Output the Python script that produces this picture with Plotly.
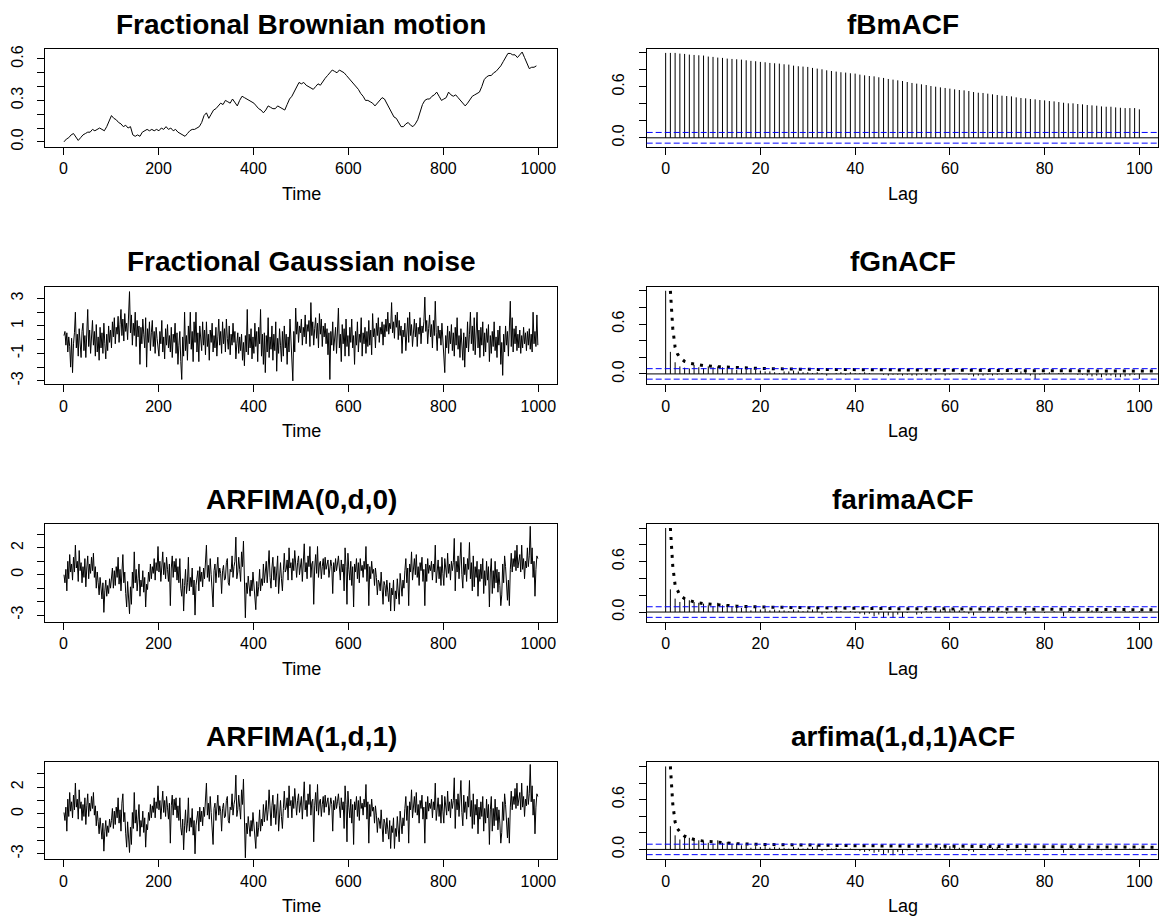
import plotly.graph_objects as go

# ---------------- data ----------------
FBM_STEP = 5     # fBm values read every 5 time units, starting at t = 1
NOISE_STEP = 2   # noise series read every 2 time units, starting at t = 1

FBM = [0.00, 0.02, 0.03, 0.05, 0.06, 0.03, 0.01, 0.03, 0.05, 0.06,
       0.07, 0.07, 0.09, 0.08, 0.09, 0.10, 0.09, 0.08, 0.11, 0.15,
       0.19, 0.17, 0.16, 0.14, 0.13, 0.11, 0.12, 0.10, 0.11, 0.05,
       0.04, 0.05, 0.04, 0.07, 0.08, 0.09, 0.08, 0.09, 0.08, 0.09,
       0.08, 0.10, 0.09, 0.11, 0.09, 0.10, 0.08, 0.09, 0.07, 0.06,
       0.05, 0.04, 0.06, 0.08, 0.09, 0.09, 0.10, 0.11, 0.14, 0.19,
       0.21, 0.17, 0.20, 0.23, 0.24, 0.26, 0.28, 0.27, 0.30, 0.29,
       0.28, 0.31, 0.28, 0.26, 0.30, 0.33, 0.32, 0.31, 0.30, 0.29,
       0.28, 0.26, 0.24, 0.23, 0.21, 0.23, 0.26, 0.25, 0.24, 0.24,
       0.26, 0.25, 0.24, 0.23, 0.27, 0.31, 0.33, 0.36, 0.40, 0.43,
       0.42, 0.43, 0.41, 0.40, 0.39, 0.38, 0.40, 0.42, 0.41, 0.44,
       0.46, 0.48, 0.50, 0.52, 0.51, 0.50, 0.52, 0.51, 0.50, 0.48,
       0.46, 0.44, 0.42, 0.40, 0.38, 0.35, 0.33, 0.30, 0.30, 0.29,
       0.28, 0.26, 0.28, 0.30, 0.32, 0.31, 0.28, 0.25, 0.21, 0.18,
       0.17, 0.14, 0.11, 0.11, 0.13, 0.14, 0.12, 0.11, 0.13, 0.16,
       0.22, 0.27, 0.30, 0.31, 0.31, 0.33, 0.34, 0.36, 0.33, 0.30,
       0.31, 0.32, 0.36, 0.34, 0.33, 0.34, 0.32, 0.30, 0.28, 0.26,
       0.28, 0.31, 0.33, 0.34, 0.35, 0.36, 0.40, 0.45, 0.47, 0.48,
       0.48, 0.50, 0.51, 0.53, 0.55, 0.58, 0.61, 0.64, 0.64, 0.63,
       0.63, 0.61, 0.63, 0.65, 0.61, 0.57, 0.53, 0.54, 0.54, 0.55]

FGN = [0.3, 0.6, -0.4, 0.5, -0.9, 0.2, -0.5, -2.0, 0.1, -2.4,
       -0.3, 0.5, 2.0, -0.6, 0.4, -1.2, 0.8, -0.2, -1.3, 0.6,
       1.2, -0.8, 0.3, -1.3, 0.9, 2.2, -0.5, 0.7, -1.0, 0.4,
       1.4, -0.4, 0.6, -1.2, 1.1, -0.9, 0.2, -1.5, 0.9, -0.6,
       0.5, -1.0, 1.2, -0.3, -1.4, 0.4, -0.8, 1.0, -0.2, 0.7,
       -0.6, 1.3, 0.2, 1.6, -0.3, 0.9, 0.4, 1.7, -0.2, 1.1,
       2.2, 0.3, 1.5, -0.1, 1.9, 0.6, 1.2, 0.0, 2.0, 3.5,
       0.5, 1.8, -0.4, 1.2, 0.3, 2.0, -0.5, 1.4, 0.2, 1.0,
       -1.8, 0.9, -0.3, 1.5, 0.4, -0.6, 1.6, -2.0, 0.8, -0.2,
       1.3, -0.8, 0.5, 1.4, -0.5, 0.6, -1.0, 0.9, 0.1, -0.7,
       -1.2, 0.6, -0.3, 1.4, -0.9, 0.2, -1.4, 0.8, -0.4, 1.1,
       -0.6, 0.3, -0.9, 0.9, -1.3, 0.4, -0.2, 1.2, -1.0, 0.5,
       -1.8, -0.4, 0.6, -1.6, -2.9, 0.2, -1.2, 2.0, -0.8, 0.3,
       -1.5, 1.0, -0.3, 2.0, -0.7, 0.6, -1.6, 1.3, -0.2, 2.0,
       -0.9, 0.5, -1.6, 1.0, 0.1, -0.8, 1.3, -0.4, 0.7, -1.1,
       1.3, -0.5, 0.4, -1.5, 0.7, -0.2, 1.2, -0.9, 0.3, -0.6,
       0.9, -1.2, 0.2, 1.5, -0.4, 0.6, -1.0, 1.3, -0.3, 0.8,
       -0.9, 1.5, 0.1, -0.7, 1.0, -1.1, 0.4, -0.4, 1.2, -0.2,
       0.6, -1.4, -0.3, 0.5, -1.0, 0.2, -0.8, 0.4, -1.5, -0.2,
       -1.9, 0.3, -0.9, 2.2, -1.1, 0.4, -0.6, 0.8, -1.4, 0.2,
       -1.0, 1.2, -0.5, 0.6, -1.6, 0.9, -0.3, 2.2, -1.2, 0.4,
       -1.8, 0.5, -2.4, 0.3, -0.9, 1.6, -1.3, 0.2, -0.7, 1.0,
       -1.5, 0.4, -0.8, 1.3, -2.3, 0.1, -1.0, 0.8, -0.4, -1.6,
       0.6, -1.2, 1.0, -0.6, 0.4, -1.8, 0.2, -0.9, 1.5, -0.3,
       -1.3, -3.0, 0.6, -0.9, 2.3, 0.4, 1.3, -0.2, 1.0, 0.5,
       1.5, -0.4, 0.9, 0.2, 1.8, -0.3, 1.1, 0.6, 1.4, -0.5,
       2.7, 0.3, 1.3, -0.4, 0.8, 1.6, 0.1, 1.2, -0.6, 1.9,
       0.4, 1.5, -0.5, 1.0, 0.2, 1.2, -0.3, 0.8, -1.1, 0.5,
       -2.9, 0.6, -0.4, 1.3, -0.8, 0.2, 0.9, -1.0, 0.5, 2.3,
       -0.6, 0.4, -1.6, 1.1, -0.3, 0.8, -1.2, 1.5, -0.5, 0.3,
       -1.2, 0.9, -0.2, 1.5, -0.6, 0.3, -1.8, 0.6, -0.4, 1.3,
       -0.9, 0.4, -0.2, 1.6, -1.2, 0.5, -0.3, 0.9, -1.0, 0.6,
       -0.5, 1.4, -0.4, 0.7, -1.1, 1.9, 0.2, 0.8, -0.6, 1.2,
       0.3, 1.6, -0.2, 0.9, 0.4, 1.3, -0.4, 1.1, 0.2, 1.5,
       0.6, 2.0, 0.4, 1.2, 0.8, 2.7, 0.5, 1.3, 0.1, 1.8,
       0.9, 2.0, 0.0, 1.4, 0.3, 1.0, -1.0, 0.7, 0.2, 1.2,
       -0.8, 0.6, 1.6, -0.2, 2.0, 0.3, 1.1, -0.5, 0.8, 1.5,
       0.2, 1.2, -0.5, 0.9, 0.4, 1.6, -0.3, 1.0, 0.5, 1.3,
       3.1, 0.6, 1.4, -0.3, 0.8, 1.8, 0.2, 1.1, -0.6, 1.4,
       0.3, 2.8, 0.5, -0.8, 1.0, 0.1, 0.7, -0.4, 1.2, 0.0,
       -0.9, -2.4, 0.3, -0.6, 1.0, -1.0, 0.6, -0.3, 1.1, -0.8,
       0.5, -1.2, 0.9, -0.4, 1.6, -0.7, 0.3, -1.3, 0.8, -0.2,
       -1.5, 0.5, -2.0, 0.2, -0.6, 1.3, -0.9, 0.4, 2.0, -0.3,
       1.0, -0.8, 1.6, -1.1, 0.2, 2.0, -0.6, 0.7, -1.3, 0.9,
       -0.4, 1.3, -1.2, 0.5, -0.9, 0.8, -0.2, 1.1, -1.6, 0.3,
       -1.0, 0.6, -0.5, 1.3, -0.8, 0.2, -1.3, 0.7, -0.4, 1.0,
       -1.8, -0.2, -2.6, 0.4, -0.9, 1.0, -0.4, 0.6, -1.2, 0.5,
       2.8, -0.5, 1.6, -0.9, 0.8, -0.3, 1.0, -0.8, 0.4, -0.6,
       0.7, -1.0, 0.3, -0.6, 0.9, -0.3, 0.5, -0.8, 0.6, -0.4,
       0.8, -0.7, 0.4, -0.9, 2.0, -0.3, 0.6, -0.5, 1.8, -0.4]

ARFIMA_0D0 = [0.0, -0.6, 0.4, -1.2, 1.0, -0.3, 1.5, 0.2, 0.8, -0.4,
              1.3, 0.2, 2.2, 0.5, 1.0, -0.5, 1.8, 0.3, 0.9, -0.6,
              0.6, -0.2, 1.2, -0.9, 0.5, 1.4, -0.3, 0.8, 0.1, 1.3,
              0.3, 1.6, -0.2, 0.6, -1.0, 0.2, -0.6, -1.5, -0.2, -1.1,
              -1.8, -0.6, -2.8, -1.2, -0.4, -1.6, -0.8, -1.4, -0.3, -1.0,
              -0.4, 0.5, -1.0, 0.3, -0.8, 0.6, -0.2, 1.3, -0.7, 0.4,
              -1.2, 0.9, 1.5, -0.6, 0.2, -1.4, -2.4, -0.5, -1.6, -2.9,
              -0.9, -2.2, 0.2, -1.0, 1.7, -0.6, 0.4, -1.2, -0.3, 0.8,
              -1.6, -0.4, -0.9, 0.3, -1.3, -0.2, -2.4, -0.7, -1.1, 0.2,
              -0.5, 0.8, -0.3, 0.6, 0.1, 1.2, -0.4, 0.9, 0.3, 2.1,
              0.2, 1.0, -0.5, 0.7, 1.7, 0.0, 0.9, -0.3, 1.3, 0.4,
              -0.5, 0.8, -2.3, 0.5, 1.4, -0.2, 1.0, 0.2, 1.2, -0.4,
              0.6, -0.6, 1.2, -1.0, -1.6, -0.3, -2.7, -0.8, 0.4, -1.4,
              -0.6, 1.3, -1.2, -0.2, -0.9, 0.5, -1.5, -0.4, -3.0, -0.8,
              -0.2, 0.3, -1.2, 0.6, -0.5, 0.2, -0.9, 0.5, -0.3, 0.8,
              2.2, -0.2, 0.7, -0.5, 1.2, 0.0, -1.0, -2.4, 0.3, 0.8,
              -0.6, 0.6, 1.3, -0.2, 0.5, 0.1, -1.4, 0.3, 0.7, -0.4,
              -0.3, 0.9, 1.2, -0.6, -0.8, 0.4, 0.2, 1.4, -0.2, 0.6,
              1.0, 2.8, -0.3, 0.2, 1.3, 0.4, -0.5, 1.7, 0.6, 2.5,
              0.3, -3.2, -0.6, -1.4, -0.1, -0.9, -1.6, -0.4, -1.2, 0.2,
              -0.8, -1.5, -2.6, -0.5, -1.6, -0.9, 0.4, -1.2, -0.3, -0.8,
              0.8, -0.6, 0.1, 1.0, -0.6, 0.3, 1.8, -0.2, -1.0, 0.5,
              1.3, -0.4, 0.6, -0.9, 0.2, 1.4, -1.4, 0.5, 0.9, -0.3,
              -1.2, 0.3, 1.6, 0.2, 0.4, 1.1, -0.4, 2.0, 0.5, 0.9,
              -0.4, 1.2, 0.3, 1.8, 0.6, -0.2, 0.9, 1.4, 0.0, 0.8,
              1.2, -0.5, 0.6, 2.3, 0.2, 0.9, -0.3, 1.4, 0.6, 2.1,
              -0.2, 0.8, 1.0, -2.2, 0.5, 1.5, 0.1, 2.1, -0.2, 0.8,
              1.0, -0.3, 0.6, 1.2, 0.0, 1.3, 0.4, 0.8, 1.1, -0.2,
              0.4, 1.1, 0.6, -1.4, 0.9, 0.2, 1.2, 0.3, 0.8, 1.4,
              0.5, -0.4, 1.1, 0.2, 0.8, -1.2, 2.0, 0.6, -2.2, 1.6,
              0.4, -0.4, 1.0, -0.8, 0.6, -2.4, 0.8, 0.2, 1.2, -0.3,
              0.9, -0.6, 1.2, 0.3, 0.7, -0.2, 1.0, 0.4, 2.1, -0.5,
              0.8, -2.3, 0.6, -0.3, 1.0, 0.1, 0.4, -0.8, 0.5, -0.2,
              -1.5, -0.4, -0.6, -1.2, 0.2, -1.0, -2.2, -0.5, -0.8, -1.6,
              -0.4, -1.3, -2.0, -0.6, -2.7, -1.0, -1.5, -0.4, -2.7, -1.2,
              -1.8, -0.3, -1.2, -2.2, 0.1, -0.9, -1.6, -0.4, -1.0, 0.3,
              1.2, -0.6, 0.5, -2.3, 0.8, 0.2, 1.7, -0.4, 0.9, 1.2,
              0.0, 1.5, -0.2, 0.6, -0.8, 0.9, 0.3, 1.3, -0.5, 0.4,
              -2.3, 0.8, -0.5, 1.2, 0.1, 0.7, 0.3, 1.0, -0.4, 0.8,
              0.2, 2.2, -0.6, 0.5, 1.1, -0.3, 0.6, -0.8, 1.3, 0.1,
              -0.8, 1.2, 0.4, -0.2, 1.6, 0.1, 0.8, -0.4, 1.0, 0.3,
              0.9, 2.7, -1.2, 1.0, 0.2, 1.4, -0.3, 0.8, 2.4, 0.0,
              -1.0, 1.3, 0.0, 0.8, -0.5, 1.2, 0.4, 2.4, -0.3, 0.9,
              -1.2, 1.4, -0.9, 0.6, -0.2, 1.0, -1.6, 0.4, -0.5, 0.8,
              -0.3, 1.2, -1.4, 0.3, -0.8, 1.0, -0.4, 0.6, -2.4, 0.2,
              1.2, -1.4, 0.3, -1.0, 1.0, -0.6, 0.4, -1.3, 0.2, -0.8,
              -2.3, -1.5, 0.8, -0.6, 1.4, 0.6, -0.9, -1.9, -0.4, -2.3,
              0.4, 1.6, 0.2, 1.2, 0.6, 1.8, 0.3, 2.2, 0.5, 1.0,
              1.5, 0.2, 2.2, 0.4, 1.2, -0.3, 1.0, 0.5, 2.0, 0.6,
              1.4, 3.6, 0.8, 2.0, -0.2, 1.0, -1.6, 0.4, 1.4, 1.2]

ARFIMA_1D1 = [0.1, -0.5, 0.5, -1.3, 1.1, -0.2, 1.6, 0.2, 0.9, -0.3,
              1.4, 0.3, 2.3, 0.5, 1.1, -0.4, 1.8, 0.4, 0.9, -0.5,
              0.7, -0.2, 1.2, -0.8, 0.6, 1.5, -0.2, 0.8, 0.2, 1.3,
              0.4, 1.6, -0.1, 0.6, -0.9, 0.2, -0.6, -1.5, -0.3, -1.2,
              -1.9, -0.7, -2.8, -1.3, -0.5, -1.7, -0.9, -1.4, -0.4, -1.0,
              -0.5, 0.4, -1.1, 0.2, -0.8, 0.5, -0.3, 1.2, -0.7, 0.3,
              -1.3, 0.8, 1.5, -0.6, 0.1, -1.5, -2.5, -0.6, -1.7, -2.9,
              -1.0, -2.3, 0.1, -1.1, 1.6, -0.7, 0.3, -1.3, -0.4, 0.7,
              -1.7, -0.5, -1.0, 0.2, -1.4, -0.3, -2.5, -0.8, -1.2, 0.1,
              -0.5, 0.7, -0.3, 0.6, 0.1, 1.2, -0.3, 0.9, 0.4, 2.1,
              0.3, 1.0, -0.4, 0.8, 1.7, 0.1, 1.0, -0.2, 1.3, 0.5,
              -0.4, 0.8, -2.2, 0.6, 1.4, -0.1, 1.1, 0.3, 1.2, -0.3,
              0.6, -0.5, 1.2, -1.0, -1.6, -0.4, -2.7, -0.9, 0.3, -1.4,
              -0.7, 1.2, -1.3, -0.3, -1.0, 0.4, -1.6, -0.5, -3.0, -0.9,
              -0.3, 0.2, -1.3, 0.5, -0.6, 0.2, -0.9, 0.5, -0.2, 0.9,
              2.3, -0.1, 0.8, -0.4, 1.3, 0.1, -0.9, -2.3, 0.4, 0.8,
              -0.5, 0.7, 1.4, -0.1, 0.6, 0.2, -1.3, 0.4, 0.8, -0.3,
              -0.2, 1.0, 1.3, -0.5, -0.7, 0.5, 0.3, 1.5, -0.1, 0.7,
              1.1, 2.9, -0.2, 0.3, 1.4, 0.5, -0.4, 1.8, 0.7, 2.6,
              0.4, -3.3, -0.7, -1.5, -0.2, -1.0, -1.7, -0.5, -1.3, 0.1,
              -0.9, -1.6, -2.6, -0.6, -1.7, -1.0, 0.3, -1.3, -0.4, -0.9,
              0.7, -0.6, 0.1, 1.0, -0.5, 0.3, 1.8, -0.1, -0.9, 0.6,
              1.4, -0.3, 0.7, -0.8, 0.3, 1.5, -1.3, 0.6, 1.0, -0.2,
              -1.1, 0.4, 1.7, 0.3, 0.5, 1.2, -0.3, 2.1, 0.6, 1.0,
              -0.3, 1.3, 0.4, 1.9, 0.7, -0.1, 1.0, 1.5, 0.1, 0.9,
              1.3, -0.4, 0.7, 2.4, 0.3, 1.0, -0.2, 1.5, 0.7, 2.2,
              -0.1, 0.9, 1.1, -2.1, 0.6, 1.6, 0.2, 2.2, -0.1, 0.9,
              1.1, -0.2, 0.7, 1.3, 0.1, 1.4, 0.5, 0.9, 1.2, -0.1,
              0.5, 1.2, 0.7, -1.3, 1.0, 0.3, 1.3, 0.4, 0.9, 1.5,
              0.6, -0.3, 1.2, 0.3, 0.9, -1.1, 2.1, 0.7, -2.1, 1.7,
              0.5, -0.3, 1.1, -0.7, 0.7, -2.3, 0.9, 0.3, 1.3, -0.2,
              1.0, -0.5, 1.3, 0.4, 0.8, -0.1, 1.1, 0.5, 2.2, -0.4,
              0.9, -2.2, 0.7, -0.2, 1.1, 0.2, 0.5, -0.7, 0.6, -0.1,
              -1.4, -0.3, -0.5, -1.1, 0.3, -0.9, -2.1, -0.4, -0.7, -1.5,
              -0.3, -1.2, -1.9, -0.5, -2.6, -0.9, -1.4, -0.3, -2.6, -1.1,
              -1.7, -0.2, -1.1, -2.1, 0.2, -0.8, -1.5, -0.3, -0.9, 0.4,
              1.3, -0.5, 0.6, -2.2, 0.9, 0.3, 1.8, -0.3, 1.0, 1.3,
              0.1, 1.6, -0.1, 0.7, -0.7, 1.0, 0.4, 1.4, -0.4, 0.5,
              -2.2, 0.9, -0.4, 1.3, 0.2, 0.8, 0.4, 1.1, -0.3, 0.9,
              0.3, 2.3, -0.5, 0.6, 1.2, -0.2, 0.7, -0.7, 1.4, 0.2,
              -0.7, 1.3, 0.5, -0.1, 1.7, 0.2, 0.9, -0.3, 1.1, 0.4,
              1.0, 2.7, -1.1, 1.1, 0.3, 1.5, -0.2, 0.9, 2.5, 0.1,
              -0.9, 1.4, 0.1, 0.9, -0.4, 1.3, 0.5, 2.5, -0.2, 1.0,
              -1.1, 1.5, -0.8, 0.7, -0.1, 1.1, -1.5, 0.5, -0.4, 0.9,
              -0.2, 1.3, -1.3, 0.4, -0.7, 1.1, -0.3, 0.7, -2.3, 0.3,
              1.3, -1.3, 0.4, -0.9, 1.1, -0.5, 0.5, -1.2, 0.3, -0.7,
              -2.2, -1.4, 0.9, -0.5, 1.5, 0.7, -0.8, -1.8, -0.3, -2.2,
              0.5, 1.7, 0.3, 1.3, 0.7, 1.9, 0.4, 2.3, 0.6, 1.1,
              1.6, 0.3, 2.3, 0.5, 1.3, -0.2, 1.1, 0.6, 2.1, 0.7,
              1.5, 3.7, 0.9, 2.1, -0.1, 1.1, -1.5, 0.5, 1.5, 1.3]

# sample ACF values, lags 0..100
ACF_FBM = [1.000, 1.000, 1.000, 0.992, 0.988, 0.980, 0.976, 0.972, 0.969, 0.957,
           0.953, 0.945, 0.941, 0.933, 0.929, 0.925, 0.921, 0.913, 0.906, 0.902,
           0.894, 0.890, 0.882, 0.878, 0.874, 0.866, 0.862, 0.850, 0.843, 0.839,
           0.835, 0.823, 0.815, 0.807, 0.795, 0.787, 0.780, 0.772, 0.768, 0.760,
           0.756, 0.744, 0.736, 0.728, 0.724, 0.713, 0.705, 0.693, 0.685, 0.677,
           0.669, 0.657, 0.646, 0.638, 0.630, 0.622, 0.610, 0.602, 0.594, 0.587,
           0.579, 0.571, 0.563, 0.559, 0.551, 0.539, 0.531, 0.528, 0.520, 0.512,
           0.504, 0.496, 0.492, 0.488, 0.476, 0.469, 0.465, 0.457, 0.453, 0.445,
           0.441, 0.433, 0.429, 0.421, 0.413, 0.406, 0.406, 0.398, 0.394, 0.386,
           0.382, 0.378, 0.370, 0.366, 0.366, 0.358, 0.354, 0.350, 0.350, 0.350,
           0.335]

ACF_FGN = [1.00, 0.265, 0.14, 0.09, 0.075, 0.065, 0.11, 0.08, 0.07, 0.09,
           0.08, 0.09, 0.08, 0.07, 0.07, 0.05, 0.07, 0.06, 0.07, 0.05,
           0.04, 0.03, 0.03, 0.02, 0.01, 0.03, 0.03, 0.04, 0.03, 0.02,
           0.02, 0.01, 0.02, 0.01, -0.02, 0.00, 0.01, 0.02, -0.01, 0.02,
           0.01, 0.01, 0.02, 0.01, 0.00, 0.00, -0.01, -0.02, -0.01, -0.01,
           -0.02, -0.01, -0.02, -0.02, -0.01, -0.01, -0.02, -0.01, 0.00, -0.02,
           -0.01, 0.00, 0.01, 0.00, -0.01, -0.03, -0.02, -0.02, -0.01, -0.02,
           -0.01, -0.01, 0.00, 0.01, 0.00, 0.03, 0.02, -0.02, -0.06, -0.01,
           0.01, 0.02, 0.00, 0.01, 0.01, 0.00, 0.00, -0.01, -0.01, -0.02,
           -0.03, -0.02, -0.04, -0.02, -0.02, -0.04, -0.04, -0.03, -0.02, -0.01,
           -0.06]

ACF_FARIMA = [1.00, 0.27, 0.16, 0.12, 0.15, 0.14, 0.12, 0.11, 0.10, 0.08,
              0.07, 0.11, 0.08, 0.09, 0.07, 0.07, 0.05, 0.06, 0.02, 0.05,
              0.03, 0.04, 0.02, 0.03, 0.02, 0.02, 0.01, 0.03, 0.02, 0.01,
              0.02, 0.03, 0.06, -0.03, -0.01, 0.01, 0.02, 0.01, 0.00, 0.01,
              -0.01, -0.02, -0.03, -0.02, -0.05, -0.03, -0.07, -0.04, -0.07, -0.03,
              -0.06, -0.01, 0.00, -0.03, -0.02, 0.01, 0.01, 0.02, 0.03, 0.03,
              0.04, 0.03, 0.02, 0.01, -0.02, -0.04, 0.00, 0.01, 0.05, 0.02,
              0.03, 0.01, -0.02, 0.00, 0.01, 0.00, -0.03, 0.00, 0.01, 0.00,
              -0.01, 0.00, 0.01, 0.00, -0.05, 0.01, 0.02, 0.01, 0.00, 0.01,
              0.02, 0.01, -0.01, 0.00, 0.01, 0.01, 0.00, 0.01, 0.01, 0.00,
              0.01]

ACF_ARFIMA11 = [1.00, 0.28, 0.17, 0.12, 0.15, 0.14, 0.12, 0.11, 0.10, 0.08,
                0.07, 0.11, 0.08, 0.09, 0.07, 0.07, 0.05, 0.05, 0.02, 0.04,
                0.03, 0.04, 0.02, 0.03, 0.02, 0.02, 0.01, 0.03, 0.02, 0.01,
                0.02, 0.03, 0.05, -0.02, -0.01, 0.01, 0.02, 0.01, 0.00, 0.01,
                -0.01, -0.02, -0.03, -0.02, -0.04, -0.03, -0.06, -0.04, -0.07, -0.03,
                -0.05, -0.01, 0.00, -0.03, -0.01, 0.01, 0.01, 0.02, 0.03, 0.03,
                0.04, 0.03, 0.02, 0.01, -0.02, -0.03, 0.00, 0.01, 0.04, 0.02,
                0.03, 0.01, -0.02, 0.00, 0.01, 0.00, -0.03, 0.00, 0.01, 0.00,
                -0.01, 0.00, 0.01, 0.00, -0.04, 0.01, 0.02, 0.01, 0.00, 0.01,
                0.01, 0.01, -0.01, 0.00, 0.01, 0.01, 0.00, 0.01, 0.01, 0.00,
                0.01]

# theoretical ACF (dotted curves), sampled at these x positions
THEO_X = [1, 1.5, 2, 2.5, 3, 4, 5, 6, 8, 10, 15, 20, 30, 40, 50, 60, 70, 80, 90, 100, 105]
THEO_FGN = [1.00, 0.55, 0.32, 0.24, 0.20, 0.15, 0.13, 0.12, 0.10, 0.09, 0.075, 0.065,
            0.055, 0.05, 0.045, 0.042, 0.04, 0.038, 0.036, 0.035, 0.034]
THEO_FARIMA = [1.00, 0.55, 0.32, 0.25, 0.20, 0.16, 0.14, 0.12, 0.10, 0.09, 0.07, 0.06,
               0.05, 0.045, 0.04, 0.036, 0.034, 0.032, 0.03, 0.028, 0.027]
THEO_ARFIMA11 = [1.00, 0.55, 0.33, 0.25, 0.21, 0.16, 0.14, 0.12, 0.10, 0.09, 0.07, 0.06,
                 0.05, 0.045, 0.04, 0.036, 0.034, 0.032, 0.03, 0.028, 0.027]

CI = 0.063  # blue dashed confidence bounds

TITLES_LEFT = ["Fractional Brownian motion", "Fractional Gaussian noise",
               "ARFIMA(0,d,0)", "ARFIMA(1,d,1)"]
TITLES_RIGHT = ["fBmACF", "fGnACF", "farimaACF", "arfima(1,d,1)ACF"]

TS_YRANGES = [[-0.036, 0.67], [-3.25, 3.85], [-3.5, 3.75], [-3.41, 3.9]]
TS_YTICKS = [[0, 0.1, 0.2, 0.3, 0.4, 0.5, 0.6], [-3, -2, -1, 0, 1, 2, 3],
             [-3, -2, -1, 0, 1, 2, 3], [-3, -2, -1, 0, 1, 2, 3]]
TS_YTEXT = [["0.0", "", "", "0.3", "", "", "0.6"], ["-3", "", "-1", "", "1", "", "3"],
            ["-3", "", "", "0", "", "2", ""], ["-3", "", "", "0", "", "2", ""]]
ACF_YRANGES = [[-0.106, 1.0425], [-0.125, 1.048], [-0.116, 1.044], [-0.119, 1.056]]
ACF_YTICKS = [0, 0.2, 0.4, 0.6, 0.8, 1.0]
ACF_YTEXT = ["0.0", "", "", "0.6", "", ""]

# ---------------- layout geometry (pixels) ----------------
W, H = 1163, 922
LEFT_X = (45, 557.3)
RIGHT_X = (646.7, 1158.3)
ROW_TOP0, ROW_STEP, BOX_H = 49.3, 237.5, 97.5

FONT = "Liberation Sans, Arial, sans-serif"

fig = go.Figure()
annotations = []
shapes = []

series = [(FBM, FBM_STEP), (FGN, NOISE_STEP), (ARFIMA_0D0, NOISE_STEP), (ARFIMA_1D1, NOISE_STEP)]
acfs = [ACF_FBM, ACF_FGN, ACF_FARIMA, ACF_ARFIMA11]
theos = [None, THEO_FGN, THEO_FARIMA, THEO_ARFIMA11]


def xdom(px):
    return [px[0] / W, px[1] / W]


def ydom(top):
    return [1 - (top + BOX_H) / H, 1 - top / H]


axis_common = dict(showline=True, mirror=True, linecolor="black", linewidth=1,
                   ticks="outside", ticklen=7, tickwidth=1, tickcolor="black",
                   showgrid=False, zeroline=False, automargin=False,
                   tickfont=dict(family=FONT, size=16, color="black"))

for k in range(4):
    top = ROW_TOP0 + ROW_STEP * k
    nl = 2 * k + 1
    nr = 2 * k + 2
    # ---- left: time series
    ys, step = series[k]
    xs = [1 + step * i for i in range(len(ys))]
    fig.add_trace(go.Scatter(x=xs, y=ys, mode="lines", line=dict(color="black", width=1),
                             xaxis=f"x{nl}", yaxis=f"y{nl}", showlegend=False, hoverinfo="skip"))
    fig.layout[f"xaxis{nl}"] = dict(domain=xdom(LEFT_X), anchor=f"y{nl}", range=[-39, 1040],
                                    tickvals=[0, 200, 400, 600, 800, 1000], **axis_common)
    fig.layout[f"yaxis{nl}"] = dict(domain=ydom(top), anchor=f"x{nl}", range=TS_YRANGES[k],
                                    tickvals=TS_YTICKS[k], ticktext=TS_YTEXT[k], tickangle=-90,
                                    ticklabelstandoff=8, **axis_common)
    # ---- right: ACF
    acf = acfs[k]
    bx, by = [], []
    for lag, v in enumerate(acf):
        bx += [lag, lag, None]
        by += [0, v, None]
    fig.add_trace(go.Scatter(x=bx, y=by, mode="lines", line=dict(color="black", width=1),
                             xaxis=f"x{nr}", yaxis=f"y{nr}", showlegend=False, hoverinfo="skip"))
    if theos[k] is not None:
        fig.add_trace(go.Scatter(x=THEO_X, y=theos[k], mode="lines",
                                 line=dict(color="black", width=3, dash="3px,6px"),
                                 xaxis=f"x{nr}", yaxis=f"y{nr}", showlegend=False,
                                 hoverinfo="skip"))
    fig.layout[f"xaxis{nr}"] = dict(domain=xdom(RIGHT_X), anchor=f"y{nr}", range=[-4, 104],
                                    tickvals=[0, 20, 40, 60, 80, 100], **axis_common)
    fig.layout[f"yaxis{nr}"] = dict(domain=ydom(top), anchor=f"x{nr}", range=ACF_YRANGES[k],
                                    tickvals=ACF_YTICKS, ticktext=ACF_YTEXT, tickangle=-90,
                                    ticklabelstandoff=8, **axis_common)
    shapes.append(dict(type="line", xref=f"x{nr} domain", yref=f"y{nr}", x0=0, x1=1, y0=0, y1=0,
                       line=dict(color="black", width=1)))
    for c in (CI, -CI):
        shapes.append(dict(type="line", xref=f"x{nr} domain", yref=f"y{nr}", x0=0, x1=1,
                           y0=c, y1=c, line=dict(color="blue", width=1, dash="6px,3px")))
    # ---- titles & axis labels
    for (x0, x1), title, lab in ((LEFT_X, TITLES_LEFT[k], "Time"),
                                 (RIGHT_X, TITLES_RIGHT[k], "Lag")):
        cx = (x0 + x1) / 2 / W
        annotations.append(dict(text=f"<b>{title}</b>", x=cx, y=1 - (top - 25) / H,
                                xref="paper", yref="paper", showarrow=False,
                                xanchor="center", yanchor="middle",
                                font=dict(family=FONT, size=28, color="black")))
        annotations.append(dict(text=lab, x=cx, y=1 - (top + BOX_H + 47) / H,
                                xref="paper", yref="paper", showarrow=False,
                                xanchor="center", yanchor="middle",
                                font=dict(family=FONT, size=18, color="black")))

fig.update_layout(width=W, height=H, margin=dict(l=0, r=0, t=0, b=0, autoexpand=False),
                  paper_bgcolor="white", plot_bgcolor="white",
                  annotations=annotations, shapes=shapes, showlegend=False)

fig.write_html("out.html", config={"displayModeBar": False},
               post_script="document.body.style.margin='0px';")
